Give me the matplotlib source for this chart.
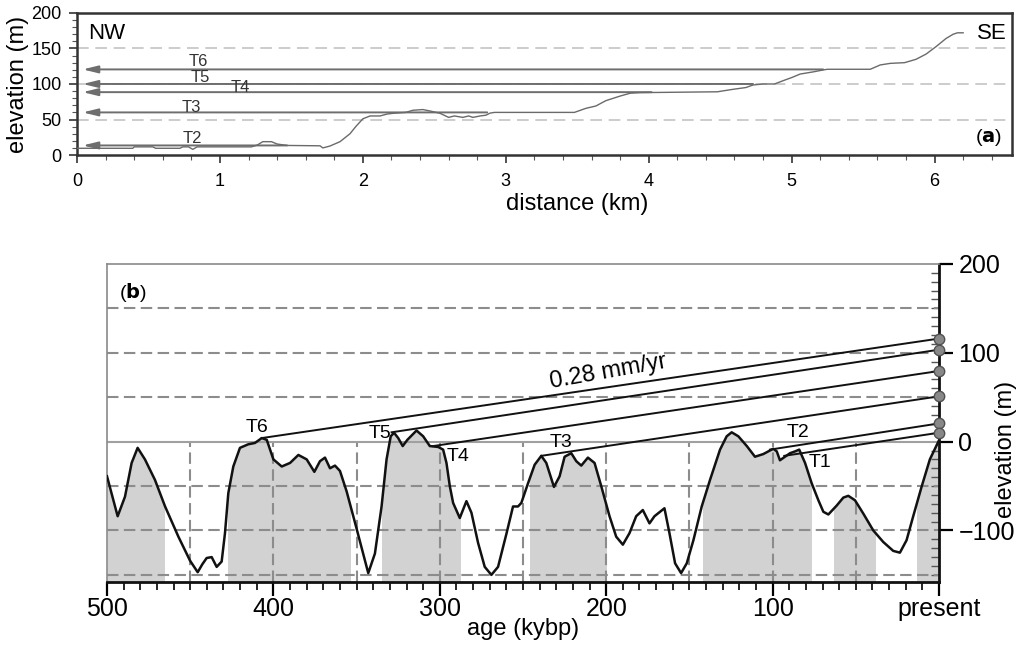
import numpy as np
import matplotlib

matplotlib.use("Agg")
import matplotlib.pyplot as plt
from matplotlib.patches import Rectangle
from matplotlib.ticker import MultipleLocator, FixedLocator

plt.rcParams["font.family"] = ["Liberation Sans", "DejaVu Sans"]

# ---- panel (a): topographic profile NW-SE
dist_km = [0, 0.39, 0.40, 0.53, 0.55, 0.72, 0.74, 0.78, 0.81, 0.84, 1.22, 1.26,
           1.30, 1.36, 1.40, 1.47, 1.70, 1.72, 1.77, 1.84, 1.91, 1.95, 2.00, 2.05,
           2.12, 2.17, 2.21, 2.30, 2.35, 2.42, 2.47, 2.54, 2.60, 2.64, 2.70, 2.74,
           2.77, 2.82, 2.86, 2.89, 2.92, 3.48, 3.56, 3.63, 3.70, 3.80, 3.87, 3.94,
           4.02, 4.48, 4.59, 4.68, 4.73, 4.80, 4.88, 4.94, 5.00, 5.06, 5.15, 5.22,
           5.25, 5.55, 5.62, 5.69, 5.79, 5.87, 5.94, 6.01, 6.08, 6.13, 6.16, 6.20]
profile_m = [9.5, 9.5, 11.5, 11.5, 9.5, 9.5, 11.5, 11.5, 8, 11.5, 11.5, 14,
             18.8, 18.8, 15.5, 13.5, 13, 10, 12.7, 18.8, 30, 40, 51, 55,
             55, 57.7, 58.7, 60, 63, 64, 62, 58.7, 53, 55, 53, 55,
             53, 55, 56, 59, 60, 60, 65.7, 69, 76.5, 83, 87, 87.8,
             88, 89, 92.5, 95, 98.6, 100, 100, 104.6, 109, 114, 117, 119.7,
             120.7, 120.7, 126.8, 129, 130, 134.7, 142, 152.5, 164, 170, 172, 172]

terr_names_a = ["T6", "T5", "T4", "T3", "T2"]
terr_elev_a = [120.5, 100, 88.5, 60, 13.5]
terr_end_km = [5.22, 4.73, 4.02, 2.87, 1.47]
terr_lab_x = [0.85, 0.86, 1.14, 0.80, 0.81]
terr_lab_y = [131, 109, 95, 67, 23.5]

# ---- panel (b): sea-level curve (m) vs age (kyr BP)
sl_age = [500, 493.6, 489.2, 485.2, 481.6, 477.2, 471.2, 465.1, 457.1, 450.1,
          445.5, 442.7, 440.1, 437.1, 434.1, 431.1, 429.1, 427.1, 424.1, 420.1,
          415.1, 411.1, 407, 404, 402, 400, 395, 390, 385, 380,
          375.4, 372, 369, 366, 363, 360, 356, 350, 343, 339,
          335, 332, 329.5, 327.5, 325, 322.3, 319.5, 314, 310, 306,
          301, 298, 296, 294, 292, 288, 284, 281, 277, 273,
          269, 265, 260, 256, 253, 251, 247, 243, 239, 236,
          231.4, 228, 225, 221, 218, 215, 211, 207, 203, 198,
          194, 190, 186, 182, 178, 174, 171, 165, 162, 158.6,
          155, 151.6, 147.6, 142.6, 137.6, 131.6, 127.6, 124.6, 120.6, 115.5,
          110.6, 105.6, 99.6, 97.5, 95.6, 92.5, 89.5, 86.5, 84, 80.5,
          76.5, 72.5, 69.5, 66.5, 61.5, 57.5, 54.5, 50.5, 45.5, 39.5,
          33.5, 27.5, 23.5, 19.5, 15.5, 10.5, 5.5, 0]
sl_m = [-39, -84, -62, -24, -7, -20, -43, -73, -107, -134,
        -147, -138, -131, -130, -141, -135, -103, -58, -28, -7,
        -3, -1.5, 4, 2, -9, -20, -28, -24, -15, -20,
        -34, -22, -18, -30, -27, -33, -56, -98, -148, -126,
        -73, -20, 6, 10, 4, -5, 2, 12.5, 6, -5,
        -6, -9, -24, -50, -69, -86, -67, -80, -114, -141,
        -150, -141, -104, -73, -73, -69, -47, -26, -16, -24,
        -51, -39, -17, -13, -22, -27, -18, -24, -50, -84,
        -107, -116, -103, -84, -77, -92, -84, -75, -103, -137,
        -148, -137, -111, -73, -43, -9, 6, 10.5, 6, -5,
        -17, -14, -8, -11, -21, -17, -13, -11, -9, -24,
        -47, -66, -79, -82, -72, -63, -61, -66, -81, -100,
        -113, -123, -125, -111, -84, -51, -20, 1.5]

# interglacial (shaded) intervals, kyr
shade_from = [500, 427, 334.5, 246, 141.6, 63, 13.4]
shade_to = [466, 354, 288, 200, 77, 38.5, 0]

# terraces: start on curve, end on present-day elevation
terr_names_b = ["T6", "T5", "T4", "T3", "T2", "T1"]
terr_age = [407, 329, 304, 239, 101.6, 93]
terr_sl = [4, 10.5, -5, -16, -9, -16]
terr_now = [116, 103.5, 79.5, 51, 20.5, 10]
terr_lab_age = [410, 336, 289, 227, 84.5, 71.5]
terr_lab_m = [16, 9, -17, -1.5, 10, -23]

h_grid = [150, 100, 50, -50, -100, -150]
v_grid = [450, 400, 350, 300, 250, 200, 150, 100, 50]
age_ticks = [500, 400, 300, 200, 100, 0]
age_labels = ["500", "400", "300", "200", "100", "present"]

fig = plt.figure(figsize=(10.23, 6.46), dpi=100)

# ================= (a)
ax1 = fig.add_axes([0.0753, 0.760, 0.9137, 0.220])
for y in [50, 100, 150]:
    ax1.axhline(y, color="#c4c4c4", lw=1.2, ls=(0, (7, 4)), zorder=1)
ax1.plot(dist_km, profile_m, color="#6a6a6a", lw=1.0, zorder=3)
for name, y, xe, lx, ly in zip(terr_names_a, terr_elev_a, terr_end_km, terr_lab_x, terr_lab_y):
    ax1.annotate("", xy=(0.04, y), xytext=(xe, y),
                 arrowprops=dict(arrowstyle="-|>,head_length=0.9,head_width=0.22",
                                 color="#6e6e6e", lw=1.4, shrinkA=0, shrinkB=0),
                 zorder=2)
    ax1.text(lx, ly, name, fontsize=12, ha="center", va="center", color="#333333")

ax1.set_xlim(0, 6.54)
ax1.set_ylim(0, 200)
ax1.xaxis.set_major_locator(MultipleLocator(1))
ax1.xaxis.set_minor_locator(MultipleLocator(0.2))
ax1.yaxis.set_major_locator(MultipleLocator(50))
ax1.yaxis.set_minor_locator(MultipleLocator(10))
ax1.tick_params(which="major", length=6, width=1.2, color="#333333", labelsize=13, pad=5)
ax1.tick_params(which="minor", length=3.5, width=0.8, color="#555555")
ax1.tick_params(axis="x", which="major", pad=7)
for s in ax1.spines.values():
    s.set_color("#333333")
    s.set_linewidth(1.8)
ax1.set_xlabel("distance (km)", fontsize=17, labelpad=0)
ax1.xaxis.set_label_coords(0.535, -0.27)
ax1.set_ylabel("elevation (m)", fontsize=17, labelpad=2)
ax1.text(0.012, 0.93, "NW", transform=ax1.transAxes, fontsize=16, va="top", ha="left")
ax1.text(0.995, 0.93, "SE", transform=ax1.transAxes, fontsize=16, va="top", ha="right")
ax1.text(0.99, 0.05, r"($\mathbf{a}$)", transform=ax1.transAxes, fontsize=14,
         va="bottom", ha="right")

# ================= (b)
ax2 = fig.add_axes([0.1046, 0.0991, 0.8133, 0.4923])
ybot, ytop = -158, 200
ax2.set_xlim(500, 0)
ax2.set_ylim(ybot, ytop)

for a0, a1 in zip(shade_from, shade_to):
    poly = ax2.fill_between(sl_age, sl_m, ybot, color="#d2d2d2", lw=0, zorder=1)
    rect = Rectangle((a1, ybot), a0 - a1, ytop - ybot, transform=ax2.transData)
    poly.set_clip_path(rect)

for y in h_grid:
    ax2.axhline(y, color="#8c8c8c", lw=1.5, ls=(0, (5.5, 2.6)), zorder=2)
ax2.vlines(v_grid, ybot, 0, colors="#8c8c8c", lw=1.5, linestyles=[(0, (5.5, 2.6))], zorder=2)
ax2.axhline(0, color="#a0a0a0", lw=1.5, zorder=2)

ax2.plot(sl_age, sl_m, color="#111111", lw=1.8, zorder=3)

for a, e0, e1 in zip(terr_age, terr_sl, terr_now):
    ax2.plot([a, 0], [e0, e1], color="#111111", lw=1.4, zorder=4)
    ax2.plot([0], [e1], "o", ms=7.5, mfc="#888888", mec="#505050", mew=1.0,
             clip_on=False, zorder=6)
for name, la, lm in zip(terr_names_b, terr_lab_age, terr_lab_m):
    ax2.text(la, lm, name, fontsize=14, ha="center", va="center", zorder=5)

ax2.text(199, 79, "0.28 mm/yr", fontsize=17, rotation=10, ha="center", va="center",
         rotation_mode="anchor")
ax2.text(0.015, 0.91, r"($\mathbf{b}$)", transform=ax2.transAxes, fontsize=14,
         va="center", ha="left")

ax2.xaxis.set_major_locator(FixedLocator(age_ticks))
ax2.set_xticklabels(age_labels)
ax2.xaxis.set_minor_locator(MultipleLocator(10))
ax2.yaxis.tick_right()
ax2.yaxis.set_label_position("right")
ax2.yaxis.set_major_locator(FixedLocator([-100, 0, 100, 200]))
ax2.yaxis.set_minor_locator(MultipleLocator(10))
ax2.tick_params(axis="x", which="major", length=10, width=1.6, labelsize=18, pad=1)
ax2.tick_params(axis="x", which="minor", length=6, width=1.2)
ax2.tick_params(axis="y", which="major", length=10, width=1.6, labelsize=18, pad=4,
                direction="out", right=True, left=False)
ax2.tick_params(axis="y", which="minor", length=6, width=1.0, direction="in",
                right=True, left=False, color="#555555")
for side in ["left", "top"]:
    ax2.spines[side].set_color("#8a8a8a")
    ax2.spines[side].set_linewidth(1.2)
for side in ["bottom", "right"]:
    ax2.spines[side].set_color("#111111")
    ax2.spines[side].set_linewidth(2.0)
ax2.set_xlabel("age (kybp)", fontsize=17, labelpad=-2)
ax2.set_ylabel("elevation (m)", fontsize=17, rotation=90)
ax2.yaxis.set_label_coords(1.067, 0.418)

fig.savefig("out.png", dpi=100)
